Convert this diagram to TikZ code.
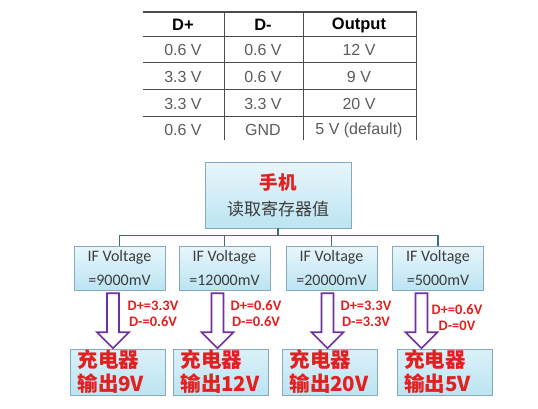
\documentclass[tikz,border=0pt]{standalone}
\usepackage{fontspec}
\setmainfont{Liberation Sans}
\newfontfamily\cjk{Noto Sans CJK SC}
\newfontfamily\calib{Carlito}
\usetikzlibrary{calc,positioning}
\definecolor{redtxt}{HTML}{E1201F}
\definecolor{arrpurple}{HTML}{7030A0}
\definecolor{boxline}{HTML}{86AABB}
\definecolor{boxtop}{HTML}{E8F6FB}
\definecolor{boxbot}{HTML}{BCE4F2}
\definecolor{treeline}{HTML}{3E6F7E}
\definecolor{txtgray}{HTML}{3C3C3C}
\definecolor{cellgray}{HTML}{5C5C5C}

\begin{document}
\begin{tikzpicture}[x=1pt,y=-1pt,
  cell/.style={font=\fontsize{16}{18}\selectfont,text=cellgray,inner sep=0pt},
  headcell/.style={font=\bfseries\fontsize{16.5}{18}\selectfont,text=black,inner sep=0pt},
  rule/.style={draw=black!70,line width=0.7pt},
  vbox/.style={draw=boxline,top color=boxtop,bottom color=boxbot,minimum width=91pt,minimum height=44pt,inner sep=0pt,align=center,font=\calib\fontsize{16}{24}\selectfont,text=txtgray},
  cbox/.style={draw=boxline,top color=boxtop!70!boxbot,bottom color=boxbot,minimum width=95pt,minimum height=46pt,text width=81pt,inner xsep=7pt,inner ysep=0pt,align=left,font=\cjk\bfseries\fontsize{20.5}{24}\selectfont,text=redtxt},
  dlabel/.style={align=center,font=\calib\bfseries\fontsize{14.5}{16}\selectfont,text=redtxt,inner sep=0pt},
  blockarr/.style={draw=arrpurple,fill=white,line width=1.6pt,line join=miter},
  tree/.style={draw=treeline,line width=1.3pt}]
\useasboundingbox[fill=white] (0,0) rectangle (538,408);

% table
\node[headcell] (h1) at (183,25) {D+};
\node[headcell] (h2) at (263,25) {D-};
\node[headcell] (h3) at (359,25) {Output};
\foreach \y/\a/\b/\c [count=\i] in {50/0.6 V/0.6 V/12 V,77/3.3 V/0.6 V/9 V,104/3.3 V/3.3 V/20 V,130/0.6 V/GND/5 V (default)} {
  \node[cell] (a\i) at (183,\y) {\a};
  \node[cell] (b\i) at (263,\y) {\b};
  \node[cell] (o\i) at (359,\y) {\c};
}
\draw[rule,line width=1.2pt] (143,12) -- (417,12);
\foreach \y in {36,62,89,116} \draw[rule] (143,\y) -- (417,\y);
\foreach \x in {224,303,416} \draw[rule] (\x,12) -- (\x,140);

% phone box
\node[vbox,minimum width=146pt,minimum height=66pt,font=\cjk\fontsize{17}{26}\selectfont] (phone) at (278,195)
  {\textcolor{redtxt}{\bfseries\fontsize{18.5}{26}\selectfont 手机}\\读取寄存器值};

% voltage boxes
\node[vbox] (v1) at (119.5,268) {IF Voltage\\=9000mV};
\node[vbox] (v2) at (224.5,268) {IF Voltage\\=12000mV};
\node[vbox] (v3) at (331.5,268) {IF Voltage\\=20000mV};
\node[vbox] (v4) at (438,268) {IF Voltage\\=5000mV};
\foreach \i in {1,...,4} \draw[tree] (phone.south) -- ++(0,7) -| (v\i.north);

% charger boxes
\node[cbox] (c1) at (118,372) {充电器\\输出9V};
\node[cbox] (c2) at (221,372) {充电器\\输出12V};
\node[cbox] (c3) at (330,372) {充电器\\输出20V};
\node[cbox] (c4) at (444.5,372) {充电器\\输出5V};

% hollow arrows
\foreach \i/\dx in {1/-6.5,2/-7,3/-4,4/-16.5} {
  \begin{scope}[shift={(v\i.south)},xshift=\dx pt]
    \draw[blockarr] (-6,3) -- (-6,42) -- (-16,42) -- (0,58) -- (16,42) -- (6,42) -- (6,3) -- cycle;
  \end{scope}
}

% D+/D- labels
\node[dlabel] (l1) at (153,314) {D+=3.3V\\D-=0.6V};
\node[dlabel] (l2) at (256,314) {D+=0.6V\\D-=0.6V};
\node[dlabel] (l3) at (366,314) {D+=3.3V\\D-=3.3V};
\node[dlabel] (l4) at (457,318) {D+=0.6V\\D-=0V};
\end{tikzpicture}
\end{document}
